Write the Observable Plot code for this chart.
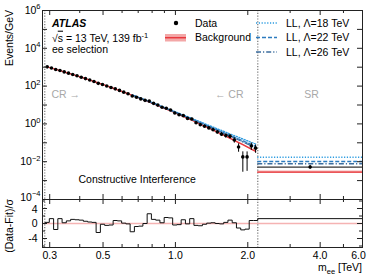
<!DOCTYPE html>
<html><head><meta charset="utf-8">
<script src="https://cdn.jsdelivr.net/npm/d3@7"></script>
<script src="https://cdn.jsdelivr.net/npm/@observablehq/plot@0.6"></script>
<style>
html,body{margin:0;padding:0;background:#fff;}
#chart{position:relative;width:374px;height:278px;font-family:"Liberation Sans",Arial,sans-serif;}
#chart svg{position:absolute;left:0;overflow:visible !important;background:transparent !important;}
</style></head><body><div id="chart"></div>
<script>
// ---------------- data ----------------
const binEdges = [0.287, 0.2989, 0.3114, 0.3243, 0.3378, 0.3518, 0.3665, 0.3817, 0.3976, 0.4141,
  0.4313, 0.4492, 0.4679, 0.4874, 0.5076, 0.5287, 0.5507, 0.5736, 0.5974, 0.6223,
  0.6481, 0.6751, 0.7031, 0.7324, 0.7628, 0.7945, 0.8276, 0.8620, 0.8978, 0.9351,
  0.9740, 1.0145, 1.0566, 1.1006, 1.1463, 1.1940, 1.2436, 1.2953, 1.3491, 1.4052,
  1.4636, 1.5245, 1.5878, 1.6538, 1.7226, 1.7942, 1.8688, 1.9464, 2.0273, 2.1116, 2.2];
const bkgValues = [1042, 897.5, 770.7, 660.0, 563.7, 480.4, 408.4, 346.2, 292.8, 247.1,
  208.0, 174.6, 146.2, 122.1, 101.7, 84.6, 70.1, 58.0, 47.8, 39.4,
  32.3, 26.5, 21.6, 17.6, 14.3, 11.6, 9.38, 7.57, 6.09, 4.89,
  3.91, 3.13, 2.49, 1.98, 1.57, 1.24, 0.979, 0.770, 0.604, 0.473,
  0.370, 0.288, 0.224, 0.173, 0.134, 0.1034, 0.0796, 0.0611, 0.0468, 0.0357];
const bkgRelErr = [0.02,0.02,0.02,0.02,0.02,0.02,0.02,0.02,0.02,0.02,
  0.025,0.025,0.025,0.025,0.025,0.025,0.025,0.025,0.025,0.025,
  0.03,0.03,0.03,0.03,0.03,0.03,0.03,0.03,0.03,0.03,
  0.045,0.045,0.045,0.045,0.045,0.045,0.045,0.045,0.045,0.045,
  0.07,0.07,0.07,0.07,0.07,0.07,0.07,0.07,0.07,0.07];
const dataValues = [1045, 908, 758, 669, 565, 484.4, 414.1, 350.9, 296.6, 249.4,
  209.4, 175.5, 139.6, 121.6, 100.6, 83.8, 71.5, 59.1, 47.9, 39.3,
  29.9, 25.7, 21.0, 17.6, 16.05, 12.25, 9.85, 7.66, 6.74, 5.42,
  3.79, 3.05, 2.73, 1.96, 1.81, 1.16, 0.896, 0.746, 0.614, 0.491,
  0.370, 0.281, 0.241, 0.22, 0.14, 0.06, 0.018, 0.018, 0.068, 0.052];
const pullValues = [0.3, 1.3, -1.6, 1.3, 0.2, 0.7, 1.1, 1.0, 0.9, 0.6,
  0.4, 0.3, -2.4, -0.2, -0.5, -0.4, 0.8, 0.7, 0.1, -0.1,
  -2.2, -0.8, -0.7, 0.0, 2.6, 1.1, 0.9, 0.2, 1.6, 1.5,
  -0.4, -0.3, 1.0, -0.1, 1.3, -0.5, -0.6, -0.2, 0.1, 0.2,
  0.0, -0.1, 0.3, 0.9, 0.2, -1.2, -1.7, -1.5, 0.8, 0.8];
const llFirstBin = 20;
const ll18 = [33.86, 27.94, 22.92, 18.81, 15.40, 12.60, 10.29, 8.40, 6.84, 5.56,
  4.52, 3.68, 2.98, 2.415, 1.958, 1.584, 1.284, 1.040, 0.842, 0.682,
  0.554, 0.449, 0.3645, 0.2949, 0.240, 0.1954, 0.1592, 0.1298, 0.1059, 0.0864];
const ll22 = [33.24, 27.36, 22.39, 18.32, 14.96, 12.20, 9.93, 8.07, 6.54, 5.29,
  4.27, 3.457, 2.782, 2.241, 1.803, 1.446, 1.162, 0.932, 0.747, 0.599,
  0.480, 0.3845, 0.3083, 0.2461, 0.1976, 0.1586, 0.1274, 0.1023, 0.0822, 0.0661];
const ll26 = [32.92, 27.08, 22.13, 18.08, 14.74, 12.00, 9.74, 7.90, 6.39, 5.16,
  4.15, 3.348, 2.685, 2.154, 1.725, 1.378, 1.101, 0.878, 0.699, 0.557,
  0.4435, 0.3523, 0.2802, 0.2218, 0.1764, 0.1402, 0.1115, 0.0886, 0.0704, 0.0560];
// signal region (single bin)
const srEdges = [2.2, 6.0];
const srBkg = 0.0028, srBkgRelErr = 0.15, srData = 0.0052, srPull = 1.3;
const srLL = [0.0173, 0.0103, 0.0078];
// region boundaries, ticks, labels
const regionEdges = [0.286, 2.2];
const xDomain = [0.28, 6.0];
const xLabelTicks = [0.3, 0.5, 1.0, 2.0, 4.0, 6.0];
const xMinorTicks = [0.4, 0.6, 0.7, 0.8, 0.9, 3, 5];
const yDecades = [-3, -2, -1, 0, 1, 2, 3, 4, 5];
const yLabelPowers = [-4, -2, 0, 2, 4, 6];
const ratioLabels = [4, 0, -4];
const ratioMinor = [-6, -2, 2, 6];
const llLabels = ["LL, \u039b=18 TeV", "LL, \u039b=22 TeV", "LL, \u039b=26 TeV"];
const llColors = ["#2b9be0", "#2c7bbf", "#3d6e9f"];
const llDash = ["1.2,1.6", "4,2", "5,2,1.2,2"];

// ---------------- build rows ----------------
const RED = "#e8383d", PINK = "#f3a7a7", FR = "#222";
const bins = bkgValues.map((b, i) => {
  const lo = binEdges[i], hi = binEdges[i + 1];
  const w = (hi - lo) * 1000; // GeV
  const d = dataValues[i];
  const e = Math.sqrt(d * w) / w;
  return {m: Math.sqrt(lo * hi), bkg: b, bLo: b * (1 - bkgRelErr[i]), bHi: b * (1 + bkgRelErr[i]),
    data: d, eLo: Math.max(d - e, 1.05e-4), eHi: d + e};
});
const llRows = ll18.map((v, k) => ({m: bins[llFirstBin + k].m, a: v, b: ll22[k], c: ll26[k]}));
const srW = (srEdges[1] - srEdges[0]) * 1000;
const srErr = Math.sqrt(srData * srW) / srW;
const srRow = [{lo: srEdges[0], hi: srEdges[1], m: Math.sqrt(srEdges[0] * srEdges[1]),
  bkg: srBkg, bLo: srBkg * (1 - srBkgRelErr), bHi: srBkg * (1 + srBkgRelErr),
  data: srData, eLo: srData - srErr, eHi: srData + srErr}];
const stepPts = pullValues.map((p, i) => ({x: binEdges[i], y: p}))
  .concat([{x: srEdges[0], y: srPull}, {x: srEdges[1], y: srPull}]);

// ---------------- geometry ----------------
const W = 374, ML = 42, MR = 12;
const innerW = W - ML - MR;
const topH = 199, topMT = 10, topInnerH = topH - topMT;
const botH = 79, botMB = 31, botInnerH = botH - botMB;
const style = {fontFamily: "'Liberation Sans', Arial, sans-serif", fontSize: "10.5px", background: "transparent", overflow: "visible", color: "#000"};

function yTicks(vals, len) {
  return [Plot.tickY(vals, {y: d => d, insetRight: innerW - len, stroke: FR}),
          Plot.tickY(vals, {y: d => d, insetLeft: innerW - len, stroke: FR})];
}
function xTicks(vals, len, ih) {
  return [Plot.tickX(vals, {x: d => d, insetTop: ih - len, stroke: FR}),
          Plot.tickX(vals, {x: d => d, insetBottom: ih - len, stroke: FR})];
}
const dotted = {stroke: "#8a8a8a", strokeDasharray: "1.2,1.6", strokeWidth: 1.4};

const topPlot = Plot.plot({
  width: W, height: topH, marginTop: topMT, marginBottom: 0, marginLeft: ML, marginRight: MR,
  style,
  x: {type: "log", domain: xDomain, axis: null},
  y: {type: "log", domain: [1e-4, 1e6], axis: null},
  marks: [
    Plot.areaY(bins, {x: "m", y1: "bLo", y2: "bHi", fill: PINK, fillOpacity: 0.9}),
    Plot.rect(srRow, {x1: "lo", x2: "hi", y1: "bLo", y2: "bHi", fill: PINK, fillOpacity: 0.9}),
    Plot.ruleX(regionEdges, {x: d => d, ...dotted}),
    Plot.line(bins, {x: "m", y: "bkg", stroke: RED, strokeWidth: 1.4}),
    Plot.ruleY(srRow, {x1: "lo", x2: "hi", y: "bkg", stroke: RED, strokeWidth: 1.4}),
    Plot.line(llRows, {x: "m", y: "a", stroke: llColors[0], strokeDasharray: llDash[0], strokeWidth: 1.3}),
    Plot.line(llRows, {x: "m", y: "b", stroke: llColors[1], strokeDasharray: llDash[1], strokeWidth: 1.3}),
    Plot.line(llRows, {x: "m", y: "c", stroke: llColors[2], strokeDasharray: llDash[2], strokeWidth: 1.3}),
    Plot.ruleY(srRow, {x1: "lo", x2: "hi", y: () => srLL[0], stroke: llColors[0], strokeDasharray: llDash[0], strokeWidth: 1.5}),
    Plot.ruleY(srRow, {x1: "lo", x2: "hi", y: () => srLL[1], stroke: llColors[1], strokeDasharray: llDash[1], strokeWidth: 1.5}),
    Plot.ruleY(srRow, {x1: "lo", x2: "hi", y: () => srLL[2], stroke: llColors[2], strokeDasharray: llDash[2], strokeWidth: 1.5}),
    Plot.ruleY(srRow, {x1: "lo", x2: "hi", y: "data", stroke: "#333", strokeWidth: 1.2}),
    Plot.ruleX(bins, {x: "m", y1: "eLo", y2: "eHi", stroke: "#000", strokeWidth: 1}),
    Plot.dot(bins, {x: "m", y: "data", r: 1.8, fill: "#000"}),
    Plot.ruleX(srRow, {x: "m", y1: "eLo", y2: "eHi", stroke: "#000", strokeWidth: 1}),
    Plot.dot(srRow, {x: "m", y: "data", r: 1.8, fill: "#000"}),
    ...yTicks(yDecades.map(d => 10 ** d), 5),
    ...xTicks(xLabelTicks.slice(0, -1), 5, topInnerH),
    ...xTicks(xMinorTicks, 3, topInnerH),
    Plot.text(yLabelPowers.slice(1), {y: d => 10 ** d, text: d => "10^" + (d < 0 ? "\u2212" + (-d) : d),
      frameAnchor: "left", textAnchor: "end", dx: -2}),
    Plot.text(yLabelPowers.slice(0, 1), {y: d => 10 ** d, text: d => "10^" + (d < 0 ? "\u2212" + (-d) : d),
      frameAnchor: "left", textAnchor: "end", dx: -2, dy: -2}),
    Plot.text(["CR \u2192"], {text: d => d, frameAnchor: "top-left", textAnchor: "start", dx: 9, dy: 80, fill: "#a8a8a8"}),
    Plot.text(["\u2190 CR"], {text: d => d, frameAnchor: "top-left", textAnchor: "end", dx: 201, dy: 80, fill: "#a8a8a8"}),
    Plot.text(["SR"], {text: d => d, frameAnchor: "top-left", textAnchor: "middle", dx: 269, dy: 80, fill: "#a8a8a8"}),
    Plot.text(["Constructive Interference"], {text: d => d, frameAnchor: "top-left", textAnchor: "start", dx: 36, dy: 165.5, fill: "#000"}),
    Plot.frame({stroke: FR, strokeWidth: 1})
  ]
});
topPlot.style.top = "0px";

const botPlot = Plot.plot({
  width: W, height: botH, marginTop: 0, marginBottom: botMB, marginLeft: ML, marginRight: MR,
  style,
  x: {type: "log", domain: xDomain, axis: null},
  y: {domain: [-6.4, 6.4], axis: null},
  marks: [
    Plot.ruleY([0], {y: d => d, stroke: "#f5b3b3", strokeWidth: 1.5}),
    Plot.ruleX(regionEdges, {x: d => d, ...dotted}),
    Plot.line(stepPts, {x: "x", y: "y", curve: "step-after", stroke: "#111", strokeWidth: 1}),
    ...yTicks(ratioLabels, 5),
    ...yTicks(ratioMinor, 3),
    ...xTicks(xLabelTicks.slice(0, -1), 5, botInnerH),
    ...xTicks(xMinorTicks, 3, botInnerH),
    Plot.text(ratioLabels.slice(1), {y: d => d, text: d => String(d), frameAnchor: "left", textAnchor: "end", dx: -5}),
    Plot.text(ratioLabels.slice(0, 1), {y: d => d, text: d => String(d), frameAnchor: "left", textAnchor: "end", dx: -5, dy: 1.5}),
    Plot.text(xLabelTicks.slice(0, -1), {x: d => d, text: d => d.toFixed(1), frameAnchor: "bottom", dy: 11.5}),
    Plot.text(xLabelTicks.slice(-1), {x: d => d, text: d => d.toFixed(1), frameAnchor: "bottom", dy: 11.5, dx: -4}),
    Plot.frame({stroke: FR, strokeWidth: 1})
  ]
});
botPlot.style.top = topH + "px";

const C = document.getElementById("chart");
C.appendChild(topPlot);
C.appendChild(botPlot);

// superscript exponents on log-axis labels
const NS = "http://www.w3.org/2000/svg";
topPlot.querySelectorAll("text").forEach(t => {
  if (!t.textContent.includes("^")) return;
  const [b, e] = t.textContent.split("^");
  t.textContent = b;
  const ts = document.createElementNS(NS, "tspan");
  ts.setAttribute("dy", "-0.6em");
  ts.setAttribute("font-size", "7.5px");
  ts.textContent = e;
  t.appendChild(ts);
});

// ---------------- overlay: ATLAS label, legend, axis titles ----------------
let ov = `<svg width="374" height="278" style="top:0px;pointer-events:none" font-family="'Liberation Sans', Arial, sans-serif" font-size="10.5">
<text x="52" y="26.7" font-weight="bold" font-style="italic">ATLAS</text>
<text x="52" y="41.7">\u221a<tspan text-decoration="overline">s</tspan> = 13 TeV, 139 fb<tspan dy="-4.2" font-size="7.5">-1</tspan></text>
<text x="52" y="52.7">ee selection</text>
<circle cx="176" cy="23" r="2.2" fill="#000"/>
<text x="195" y="26.5">Data</text>
<rect x="165" y="34" width="21" height="7.5" fill="${PINK}"/>
<line x1="165" x2="186" y1="37.7" y2="37.7" stroke="${RED}" stroke-width="1.5"/>
<text x="195" y="41">Background</text>`;
[23, 37.5, 52].forEach((y, k) => {
  ov += `<line x1="256" x2="277" y1="${y}" y2="${y}" stroke="${llColors[k]}" stroke-dasharray="${llDash[k]}" stroke-width="1.3"/>
<text x="286" y="${y + 3.5}">${llLabels[k]}</text>`;
});
ov += `<text transform="translate(13.4,10) rotate(-90)" text-anchor="end">Events/GeV</text>
<text transform="translate(13.4,226) rotate(-90)" text-anchor="middle">(Data-Fit)/\u03c3</text>
<text x="362" y="271" text-anchor="end">m<tspan font-size="7.5" dy="2.5">ee</tspan><tspan dy="-2.5"> [TeV]</tspan></text>
</svg>`;
C.insertAdjacentHTML("beforeend", ov);
</script></body></html>
